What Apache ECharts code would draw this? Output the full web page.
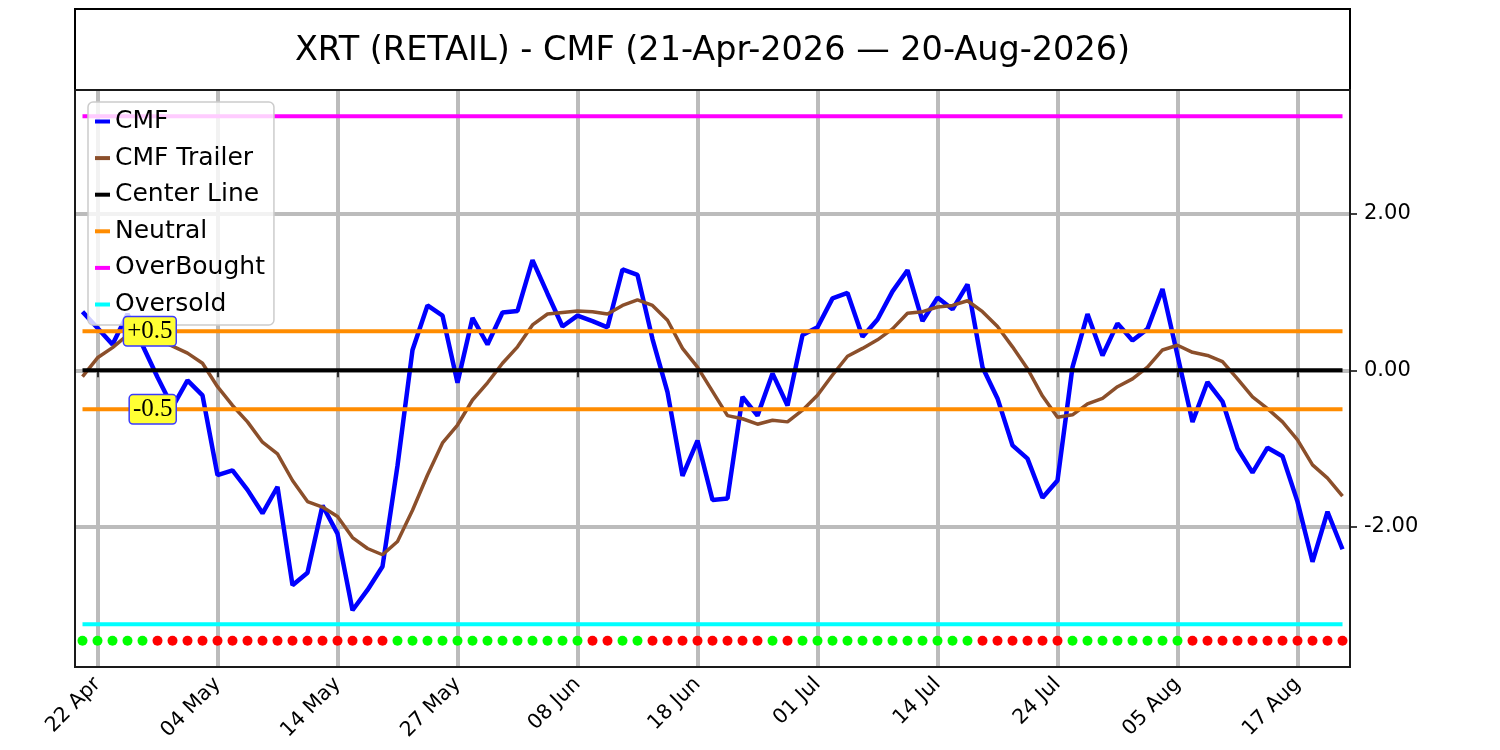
<!DOCTYPE html>
<html>
<head>
<meta charset="utf-8">
<title>XRT (RETAIL) - CMF</title>
<script src="https://cdn.jsdelivr.net/npm/echarts@6/dist/echarts.min.js"></script>
<style>
  html, body { margin: 0; padding: 0; background: #fff; }
  #main { width: 1500px; height: 750px; }
</style>
</head>
<body>
<div id="main"></div>
<script>
// trading days 21-Apr-2026 .. 20-Aug-2026
var dates = [
  '21 Apr', '22 Apr', '23 Apr', '24 Apr', '27 Apr', '28 Apr', '29 Apr', '30 Apr',
  '01 May', '04 May', '05 May', '06 May', '07 May', '08 May', '11 May', '12 May', '13 May', '14 May',
  '15 May', '18 May', '19 May', '20 May', '21 May', '22 May', '26 May', '27 May', '28 May', '29 May',
  '01 Jun', '02 Jun', '03 Jun', '04 Jun', '05 Jun', '08 Jun', '09 Jun', '10 Jun', '11 Jun', '12 Jun',
  '15 Jun', '16 Jun', '17 Jun', '18 Jun', '22 Jun', '23 Jun', '24 Jun', '25 Jun', '26 Jun', '29 Jun', '30 Jun',
  '01 Jul', '02 Jul', '06 Jul', '07 Jul', '08 Jul', '09 Jul', '10 Jul', '13 Jul', '14 Jul', '15 Jul',
  '16 Jul', '17 Jul', '20 Jul', '21 Jul', '22 Jul', '23 Jul', '24 Jul', '27 Jul', '28 Jul', '29 Jul', '30 Jul', '31 Jul',
  '03 Aug', '04 Aug', '05 Aug', '06 Aug', '07 Aug', '10 Aug', '11 Aug', '12 Aug', '13 Aug', '14 Aug',
  '17 Aug', '18 Aug', '19 Aug', '20 Aug'
];

var cmfData = [
  0.75, 0.54, 0.33, 0.72, 0.32, -0.09, -0.47, -0.13, -0.32, -1.34,
  -1.28, -1.53, -1.83, -1.49, -2.75, -2.59, -1.73, -2.09, -3.07, -2.81,
  -2.51, -1.22, 0.26, 0.83, 0.70, -0.16, 0.67, 0.33, 0.74, 0.76,
  1.41, 0.98, 0.56, 0.70, 0.63, 0.55, 1.29, 1.22, 0.40, -0.28,
  -1.35, -0.90, -1.66, -1.64, -0.34, -0.58, -0.04, -0.45, 0.45, 0.55,
  0.92, 0.99, 0.43, 0.65, 1.01, 1.28, 0.63, 0.93, 0.78, 1.10,
  0.04, -0.36, -0.96, -1.13, -1.63, -1.41, 0.04, 0.72, 0.19, 0.60,
  0.38, 0.53, 1.04, 0.19, -0.66, -0.15, -0.40, -1.00, -1.31, -0.99,
  -1.10, -1.68, -2.45, -1.81, -2.29
];

var trailerData = [
  -0.08, 0.16, 0.29, 0.45, 0.50, 0.40, 0.31, 0.22, 0.09, -0.21,
  -0.45, -0.66, -0.92, -1.07, -1.41, -1.68, -1.75, -1.87, -2.14, -2.28,
  -2.36, -2.19, -1.79, -1.34, -0.93, -0.70, -0.38, -0.16, 0.09, 0.30,
  0.58, 0.72, 0.74, 0.76, 0.75, 0.72, 0.83, 0.90, 0.83, 0.64,
  0.28, 0.04, -0.27, -0.58, -0.62, -0.69, -0.64, -0.66, -0.51, -0.32,
  -0.06, 0.18, 0.28, 0.39, 0.53, 0.73, 0.75, 0.81, 0.83, 0.89,
  0.75, 0.56, 0.30, 0.02, -0.33, -0.60, -0.57, -0.43, -0.36, -0.21,
  -0.11, 0.04, 0.26, 0.32, 0.23, 0.19, 0.11, -0.11, -0.34, -0.49,
  -0.66, -0.89, -1.21, -1.38, -1.61
];

// 1 = green dot, 0 = red dot
var signalData = [
  1, 1, 1, 1, 1, 0, 0, 0, 0, 0,
  0, 0, 0, 0, 0, 0, 0, 0, 0, 0,
  0, 1, 1, 1, 1, 1, 1, 1, 1, 1,
  1, 1, 1, 1, 0, 0, 1, 1, 0, 0,
  0, 0, 0, 0, 0, 0, 1, 0, 1, 1,
  1, 1, 1, 1, 1, 1, 1, 1, 1, 1,
  0, 0, 0, 0, 0, 0, 1, 1, 1, 1,
  1, 1, 1, 1, 0, 0, 0, 0, 0, 0,
  0, 0, 0, 0, 0
];

var centerLevel = 0;
var neutralLevels = [0.5, -0.5];
var neutralLabels = ['+0.5', '-0.5'];
var labelIndex = 6;
var overBoughtLevel = 3.25;
var overSoldLevel = -3.25;
var signalLevel = -3.46;
var yTicks = [-2, 0, 2];
var yMin = -3.796;
var yMax = 3.586;

var titleText = 'XRT (RETAIL) - CMF (21-Apr-2026 \u2014 20-Aug-2026)';

function flat(v) {
  return dates.map(function () { return v; });
}

// ticks every 8th trading day starting at 22 Apr
function showTick(index) {
  return (index - 1) % 8 === 0;
}

function levelLine(name, value, color) {
  return {
    name: name,
    type: 'line',
    data: flat(value),
    symbol: 'none',
    color: color,
    lineStyle: { color: color, width: 4 },
    z: 3
  };
}

var chart = echarts.init(document.getElementById('main'));

var option = {
  animation: false,
  backgroundColor: '#fff',
  textStyle: { fontFamily: 'DejaVu Sans' },
  grid: { left: 75, right: 150, top: 90, bottom: 83, containLabel: false },
  graphic: [
    {
      type: 'rect',
      shape: { x: 75, y: 9, width: 1275, height: 81 },
      style: { fill: '#fff', stroke: '#000', lineWidth: 2 }
    },
    {
      type: 'text',
      style: {
        text: titleText, x: 712.5, y: 51, align: 'center', verticalAlign: 'middle',
        fontSize: 33.5, fontFamily: 'DejaVu Sans', fill: '#000'
      }
    },
    {
      type: 'rect',
      z: 50,
      shape: { x: 75, y: 90, width: 1275, height: 577 },
      style: { fill: 'none', stroke: '#1a1a1a', lineWidth: 2 }
    }
  ],
  legend: {
    data: ['CMF', 'CMF Trailer', 'Center Line', 'Neutral', 'OverBought', 'Oversold'],
    orient: 'vertical',
    left: 88,
    top: 102,
    padding: [7, 9, 8, 7],
    itemWidth: 15,
    itemHeight: 4,
    itemGap: 11.6,
    icon: 'rect',
    backgroundColor: 'rgba(255,255,255,0.8)',
    borderColor: '#cccccc',
    borderWidth: 1.5,
    borderRadius: 5,
    textStyle: { fontSize: 25, color: '#000', fontFamily: 'DejaVu Sans' }
  },
  xAxis: {
    type: 'category',
    data: dates,
    boundaryGap: true,
    axisLine: { show: false },
    axisTick: {
      show: true, alignWithLabel: true, interval: showTick, length: 7,
      lineStyle: { color: '#000', width: 1.5 }
    },
    axisLabel: {
      interval: showTick, rotate: 45, fontSize: 20.5, color: '#000',
      fontFamily: 'DejaVu Sans', margin: 14
    },
    splitLine: {
      show: true, interval: showTick, alignWithLabel: true,
      lineStyle: { color: '#bcbcbc', width: 4 }
    }
  },
  yAxis: {
    type: 'value',
    position: 'right',
    min: yMin,
    max: yMax,
    splitNumber: 4,
    axisLine: { show: false },
    axisTick: {
      show: true, customValues: yTicks, length: 7,
      lineStyle: { color: '#000', width: 1.5 }
    },
    axisLabel: {
      customValues: yTicks, fontSize: 21, color: '#000', margin: 14,
      fontFamily: 'DejaVu Sans',
      formatter: function (v) { return v.toFixed(2); }
    },
    splitLine: {
      show: true,
      lineStyle: { color: '#bcbcbc', width: 4 }
    }
  },
  series: [
    {
      name: 'CMF',
      type: 'line',
      data: cmfData,
      symbol: 'none',
      color: '#0000ff',
      lineStyle: { color: '#0000ff', width: 4.5 },
      z: 3
    },
    {
      name: 'CMF Trailer',
      type: 'line',
      data: trailerData,
      symbol: 'none',
      color: '#8b4f2b',
      lineStyle: { color: '#8b4f2b', width: 3.5 },
      z: 3
    },
    levelLine('Center Line', centerLevel, '#000000'),
    levelLine('Neutral', neutralLevels[0], '#ff8c00'),
    levelLine('Neutral', neutralLevels[1], '#ff8c00'),
    levelLine('OverBought', overBoughtLevel, '#ff00ff'),
    levelLine('Oversold', overSoldLevel, '#00ffff'),
    {
      name: 'Signal',
      type: 'scatter',
      symbolSize: 10,
      z: 4,
      itemStyle: { opacity: 1 },
      data: signalData.map(function (s, i) {
        return {
          value: [i, signalLevel],
          itemStyle: { color: s ? '#00ff00' : '#ff0000', opacity: 1 }
        };
      })
    },
    {
      name: 'Levels',
      type: 'scatter',
      symbolSize: 0,
      z: 10,
      itemStyle: { opacity: 1 },
      data: neutralLevels.map(function (v, i) {
        return { value: [labelIndex, v], name: neutralLabels[i] };
      }),
      label: {
        show: true,
        position: 'left',
        distance: 0,
        offset: [3, 0],
        formatter: function (p) { return p.name; },
        fontFamily: 'Liberation Serif',
        fontSize: 25,
        color: '#000',
        backgroundColor: '#ffff33',
        borderColor: '#3a3aff',
        borderWidth: 1.5,
        borderRadius: 3,
        padding: [2, 3, 1, 3]
      }
    }
  ]
};

chart.setOption(option);
</script>
</body>
</html>
